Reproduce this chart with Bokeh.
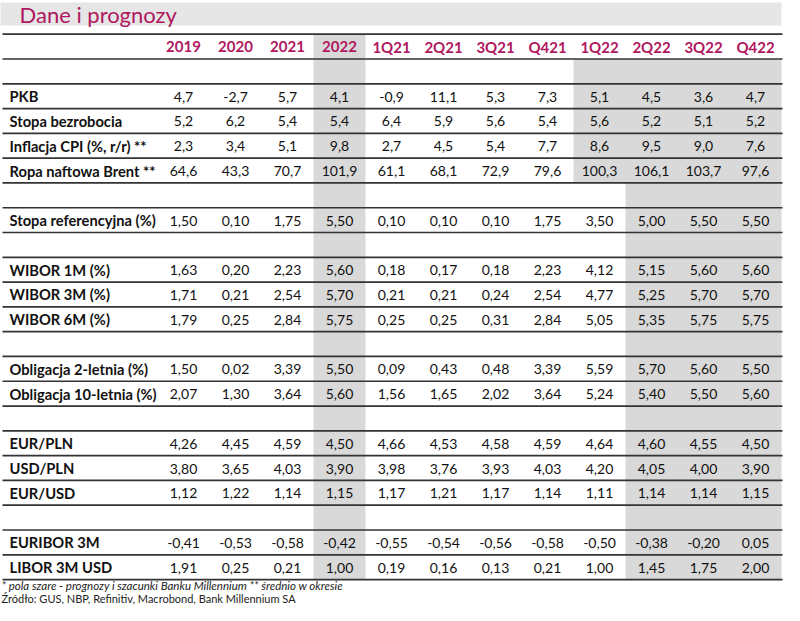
from bokeh.plotting import figure
from bokeh.models import Range1d, ColumnDataSource
from bokeh.core.properties import value
from bokeh.embed import file_html
from bokeh.resources import INLINE

# ---------------- data ----------------
title = "Dane i prognozy"
columns = ["2019", "2020", "2021", "2022", "1Q21", "2Q21", "3Q21", "Q421",
           "1Q22", "2Q22", "3Q22", "Q422"]

pkb = ["4,7", "-2,7", "5,7", "4,1", "-0,9", "11,1", "5,3", "7,3", "5,1", "4,5", "3,6", "4,7"]
bezrobocie = ["5,2", "6,2", "5,4", "5,4", "6,4", "5,9", "5,6", "5,4", "5,6", "5,2", "5,1", "5,2"]
cpi = ["2,3", "3,4", "5,1", "9,8", "2,7", "4,5", "5,4", "7,7", "8,6", "9,5", "9,0", "7,6"]
brent = ["64,6", "43,3", "70,7", "101,9", "61,1", "68,1", "72,9", "79,6", "100,3", "106,1", "103,7", "97,6"]
stopa_ref = ["1,50", "0,10", "1,75", "5,50", "0,10", "0,10", "0,10", "1,75", "3,50", "5,00", "5,50", "5,50"]
wibor1m = ["1,63", "0,20", "2,23", "5,60", "0,18", "0,17", "0,18", "2,23", "4,12", "5,15", "5,60", "5,60"]
wibor3m = ["1,71", "0,21", "2,54", "5,70", "0,21", "0,21", "0,24", "2,54", "4,77", "5,25", "5,70", "5,70"]
wibor6m = ["1,79", "0,25", "2,84", "5,75", "0,25", "0,25", "0,31", "2,84", "5,05", "5,35", "5,75", "5,75"]
obl2 = ["1,50", "0,02", "3,39", "5,50", "0,09", "0,43", "0,48", "3,39", "5,59", "5,70", "5,60", "5,50"]
obl10 = ["2,07", "1,30", "3,64", "5,60", "1,56", "1,65", "2,02", "3,64", "5,24", "5,40", "5,50", "5,60"]
eurpln = ["4,26", "4,45", "4,59", "4,50", "4,66", "4,53", "4,58", "4,59", "4,64", "4,60", "4,55", "4,50"]
usdpln = ["3,80", "3,65", "4,03", "3,90", "3,98", "3,76", "3,93", "4,03", "4,20", "4,05", "4,00", "3,90"]
eurusd = ["1,12", "1,22", "1,14", "1,15", "1,17", "1,21", "1,17", "1,14", "1,11", "1,14", "1,14", "1,15"]
euribor = ["-0,41", "-0,53", "-0,58", "-0,42", "-0,55", "-0,54", "-0,56", "-0,58", "-0,50", "-0,38", "-0,20", "0,05"]
libor = ["1,91", "0,25", "0,21", "1,00", "0,19", "0,16", "0,13", "0,21", "1,00", "1,45", "1,75", "2,00"]

groups = [
    [("PKB", pkb), ("Stopa bezrobocia", bezrobocie),
     ("Inflacja CPI (%, r/r) **", cpi), ("Ropa naftowa Brent **", brent)],
    [("Stopa referencyjna (%)", stopa_ref)],
    [("WIBOR 1M (%)", wibor1m), ("WIBOR 3M (%)", wibor3m), ("WIBOR 6M (%)", wibor6m)],
    [("Obligacja 2-letnia (%)", obl2), ("Obligacja 10-letnia (%)", obl10)],
    [("EUR/PLN", eurpln), ("USD/PLN", usdpln), ("EUR/USD", eurusd)],
    [("EURIBOR 3M", euribor), ("LIBOR 3M USD", libor)],
]
forecast_year = "2022"
forecast_start = ["1Q22", "2Q22", "2Q22", "2Q22", "2Q22", "2Q22"]

footnote1 = "* pola szare - prognozy i szacunki Banku Millennium  ** \u015brednio w okresie"
footnote2 = "\u0179r\u00f3d\u0142o: GUS, NBP, Refinitiv, Macrobond, Bank Millennium SA"

# ---------------- layout ----------------
MAGENTA = "#B0175E"
FONT = value("Lato")
X_LEFT, X_RIGHT = 10, 790
LABEL_X = 17
COL0, COLW = 191, 52
Y_TOP, ROWH = 41.7, 24.79

def col_center(name):
    return COL0 + COLW * columns.index(name)

def row_top(i):
    return Y_TOP + ROWH * i

def row_mid(i):
    return Y_TOP + ROWH * (i + 0.5)

row_index = 1
label_rows = []
shade = dict(left=[], right=[], top=[], bottom=[])
for g, rows in enumerate(groups):
    first = row_index
    row_index += 1
    for lab, vals in rows:
        label_rows.append((row_index, lab, vals))
        row_index += 1
    shade["left"].append(col_center(forecast_start[g]) - COLW / 2)
    shade["right"].append(col_center(columns[-1]) + COLW / 2)
    shade["top"].append(row_top(first))
    shade["bottom"].append(row_top(row_index))
n_rows = row_index

shade["left"].append(col_center(forecast_year) - COLW / 2)
shade["right"].append(col_center(forecast_year) + COLW / 2)
shade["top"].append(row_top(0))
shade["bottom"].append(row_top(n_rows))

p = figure(width=784, height=605, output_backend="svg", toolbar_location=None,
           x_range=Range1d(8, 792), y_range=Range1d(613, 8),
           min_border=0, outline_line_color=None)
p.axis.visible = False
p.grid.visible = False
p.background_fill_color = "white"
p.border_fill_color = "white"

# title bar
p.quad(left=[7], right=[789], top=[10], bottom=[33], color="#E6E6E6", line_color=None)
p.text(x=[27], y=[21.5], text=[title], text_font=FONT, text_font_size="22px",
       text_color=MAGENTA, text_baseline="middle")

# shading
p.quad(source=ColumnDataSource(shade), left="left", right="right", top="top",
       bottom="bottom", color="#D9D9D9", line_color=None)

# horizontal rules
ys = [row_top(i) for i in range(n_rows + 1)]
p.segment(x0=[X_LEFT] * len(ys), x1=[X_RIGHT] * len(ys), y0=ys, y1=ys,
          line_color="#333333", line_width=1.7)

# header
p.text(x=[col_center(c) for c in columns], y=[row_mid(0)] * len(columns), text=columns,
       text_font=FONT, text_font_size="15px", text_font_style="bold",
       text_color=MAGENTA, text_align="center", text_baseline="middle")

# labels
p.text(x=[LABEL_X] * len(label_rows), y=[row_mid(r) for r, _, _ in label_rows],
       text=[lab for _, lab, _ in label_rows], text_font=FONT, text_font_size="14.7px",
       text_font_style="bold", text_color="#111111", text_baseline="middle")

# values
vx, vy, vt = [], [], []
for r, _, vals in label_rows:
    for c, v in zip(columns, vals):
        vx.append(col_center(c))
        vy.append(row_mid(r) + 0.5)
        vt.append(v)
p.text(x=vx, y=vy, text=vt, text_font=FONT, text_font_size="14px",
       text_color="#111111", text_align="center", text_baseline="middle")

# footnotes
p.text(x=[9], y=[593], text=[footnote1], text_font=FONT, text_font_size="11.5px",
       text_font_style="italic", text_color="#222222", text_baseline="middle")
p.text(x=[9], y=[606], text=[footnote2], text_font=FONT, text_font_size="11px",
       text_color="#222222", text_baseline="middle")

open("out.html", "w").write(file_html(p, INLINE))
